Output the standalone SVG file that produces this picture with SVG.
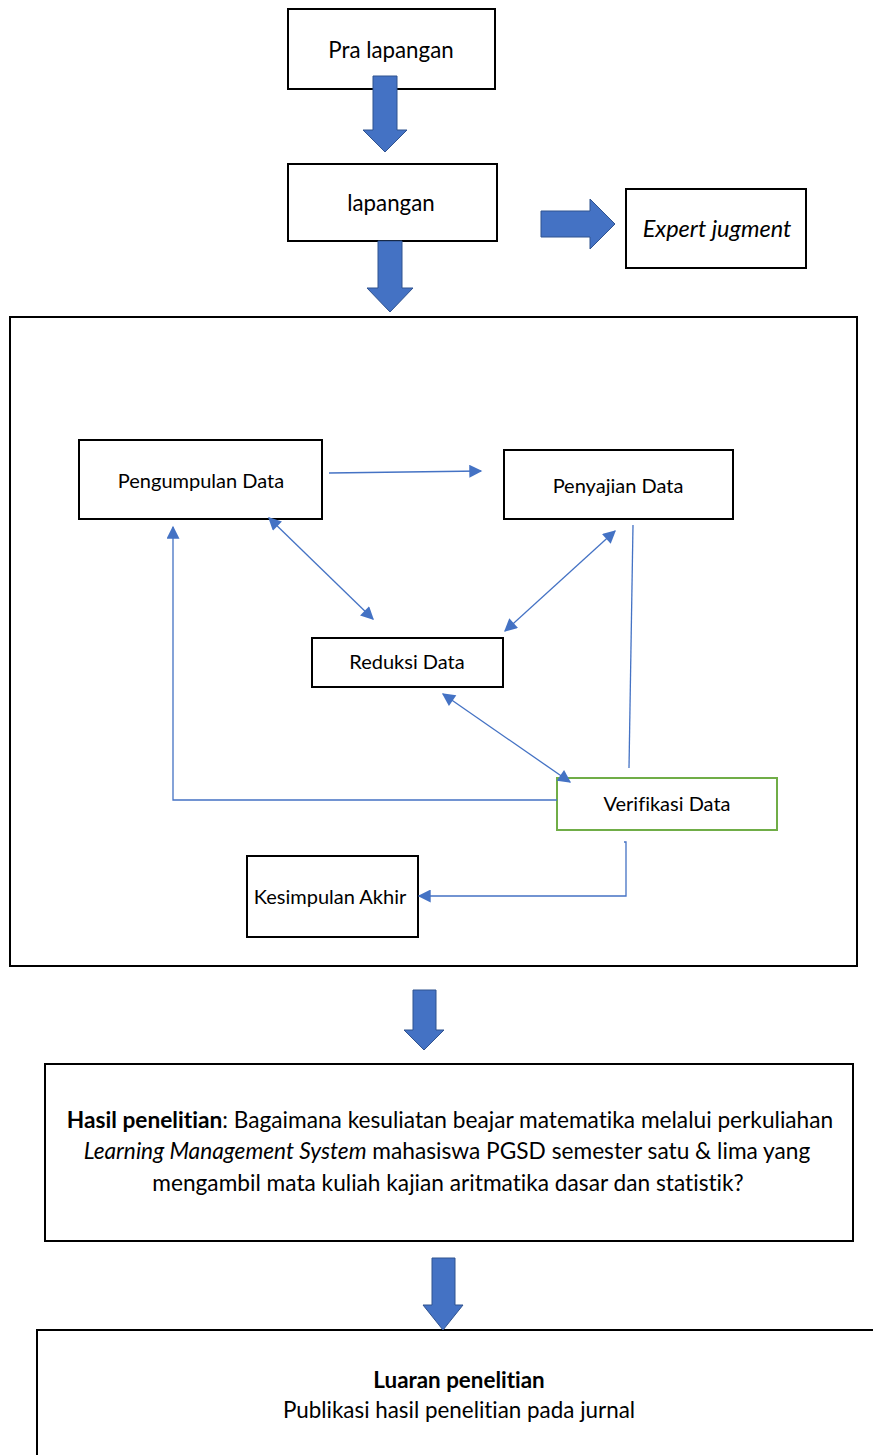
<svg xmlns="http://www.w3.org/2000/svg" width="873" height="1455" viewBox="0 0 873 1455">
<defs>
<style>
.box{fill:#fff;stroke:#000;stroke-width:2}
.gbox{fill:#fff;stroke:#70AD47;stroke-width:2}
.t{font-family:Lato,"Open Sans","Liberation Sans",sans-serif;fill:#000;text-anchor:middle;font-variant-ligatures:none}
.blk{fill:#4472C4;stroke:#2F528F;stroke-width:1}
.ln{fill:none;stroke:#4472C4;stroke-width:1.3}
</style>
<marker id="ahb" viewBox="0 0 10 10" refX="9" refY="5" markerWidth="15" markerHeight="13" markerUnits="userSpaceOnUse" orient="auto-start-reverse">
<path d="M0,0 L10,5 L0,10 z" fill="#4472C4"/>
</marker>
</defs>
<rect width="873" height="1455" fill="#fff"/>

<g id="container"><rect class="box" x="10" y="317" width="847" height="649"/></g>

<g id="pra-lapangan"><rect class="box" x="288" y="9" width="207" height="80"/><text class="t" x="391" y="58" font-size="22.3">Pra lapangan</text></g>
<g id="lapangan"><rect class="box" x="288" y="164" width="209" height="77"/><text class="t" x="391" y="211" font-size="22.3">lapangan</text></g>
<g id="expert"><rect class="box" x="626" y="189" width="180" height="79"/><text class="t" x="717" y="237" font-size="23.5" font-style="italic">Expert jugment</text></g>

<g id="pengumpulan"><rect class="box" x="79" y="440" width="243" height="79"/><text class="t" x="201" y="488" font-size="20">Pengumpulan Data</text></g>
<g id="penyajian"><rect class="box" x="504" y="450" width="229" height="69"/><text class="t" x="618" y="493" font-size="20">Penyajian Data</text></g>
<g id="reduksi"><rect class="box" x="312" y="638" width="191" height="49"/><text class="t" x="407" y="669" font-size="20">Reduksi Data</text></g>
<g id="verifikasi"><rect class="gbox" x="557" y="778" width="220" height="52"/><text class="t" x="667" y="811" font-size="20">Verifikasi Data</text></g>
<g id="kesimpulan"><rect class="box" x="247" y="856" width="171" height="81"/><text class="t" x="330" y="904" font-size="20">Kesimpulan Akhir</text></g>

<g id="hasil"><rect class="box" x="45" y="1064" width="808" height="177"/>
<text class="t" x="450" y="1128" font-size="22.7"><tspan font-weight="bold">Hasil penelitian</tspan>: Bagaimana kesuliatan beajar matematika melalui perkuliahan</text>
<text class="t" x="447" y="1159" font-size="22.7"><tspan font-style="italic">Learning Management System</tspan> mahasiswa PGSD semester satu &amp; lima yang</text>
<text class="t" x="448" y="1191" font-size="22.7">mengambil mata kuliah kajian aritmatika dasar dan statistik?</text>
</g>
<g id="luaran"><rect class="box" x="37" y="1330" width="850" height="140"/>
<text class="t" x="459" y="1388" font-size="22.4" font-weight="bold">Luaran penelitian</text>
<text class="t" x="459" y="1418" font-size="22.4">Publikasi hasil penelitian pada jurnal</text>
</g>

<g id="connectors">
<path class="blk" d="M373,76 H397 V130 H407 L385,152 L363,130 H373 Z"/>
<path class="blk" d="M378,241 H402 V288 H413 L390,312 L367,288 H378 Z"/>
<path class="blk" d="M541,211 H590 V199 L615,224 L590,249 V237 H541 Z"/>
<path class="blk" d="M413,990 H436 V1030 H444 L424,1050 L404,1030 H413 Z"/>
<path class="blk" d="M432,1258 H455 V1305 H463 L443,1330 L423,1305 H432 Z"/>

<line class="ln" x1="329" y1="473" x2="481" y2="471" marker-end="url(#ahb)"/>
<line class="ln" x1="269" y1="518" x2="373" y2="619" marker-start="url(#ahb)" marker-end="url(#ahb)"/>
<line class="ln" x1="615" y1="531" x2="505" y2="631" marker-start="url(#ahb)" marker-end="url(#ahb)"/>
<line class="ln" x1="443" y1="694" x2="570" y2="782" marker-start="url(#ahb)" marker-end="url(#ahb)"/>
<polyline class="ln" points="557,800 173,800 173,527" marker-end="url(#ahb)"/>
<line class="ln" x1="633" y1="525" x2="629" y2="768"/>
<polyline class="ln" points="624,842 626,842 626,896 419,896" marker-end="url(#ahb)"/>
</g>
</svg>
